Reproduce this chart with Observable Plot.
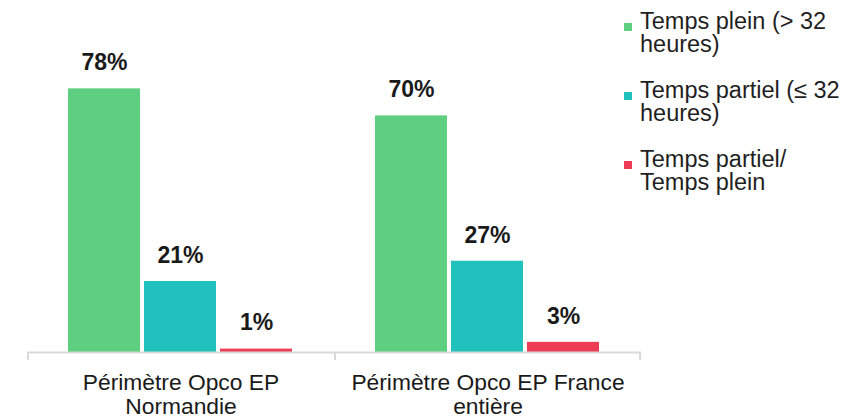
<!DOCTYPE html>
<html>
<head>
<meta charset="utf-8">
<script src="https://cdn.jsdelivr.net/npm/d3@7"></script>
<script src="https://cdn.jsdelivr.net/npm/@observablehq/plot@0.6"></script>
<style>
  body { margin: 0; background: #fff; }
  #wrap { position: relative; width: 856px; height: 418px; font-family: "Liberation Sans", Arial, sans-serif; }
  #legend { position: absolute; left: 624px; top: 10px; color: #1f1f1f; font-size: 23.5px; line-height: 23px; }
  .entry { position: relative; padding-left: 16px; margin-bottom: 23px; white-space: pre; }
  .sw { position: absolute; left: 0; top: 13px; width: 8px; height: 8px; }
</style>
</head>
<body>
<div id="wrap"><div id="legend"></div></div>
<script>
// ---- data ----
const groups = ["Périmètre Opco EP Normandie", "Périmètre Opco EP France entière"];
const groupLabels = ["Périmètre Opco EP\nNormandie", "Périmètre Opco EP France\nentière"];
const series = ["Temps plein (> 32 heures)", "Temps partiel (≤ 32 heures)", "Temps partiel/ Temps plein"];
const legendLabels = ["Temps plein (> 32\nheures)", "Temps partiel (≤ 32\nheures)", "Temps partiel/\nTemps plein"];
const colors = ["#5ecf80", "#21c2bd", "#ee3c55"];
const normandie = [78, 21, 1];
const franceEntiere = [70, 27, 3];

const valuesByGroup = [normandie, franceEntiere];
const data = [];
groups.forEach((g, gi) => series.forEach((s, si) => data.push({group: g, series: s, value: valuesByGroup[gi][si]})));

// ---- layout ----
const W = 856, H = 418, mL = 27, mR = 215, mT = 14, mB = 66;
const pInner = 0.052, pOuter = 0.52;
const facetW = (W - mL - mR) / groups.length;
const step = facetW / (series.length - pInner + 2 * pOuter);
const bw = step * (1 - pInner);
const edgeOffset = pOuter * step + bw / 2;
const pxPerUnit = (H - mT - mB) / 100;

const edges = [
  {group: groups[0], series: series[0], dx: -edgeOffset},
  {group: groups[1], series: series[0], dx: -edgeOffset},
  {group: groups[1], series: series[series.length - 1], dx: edgeOffset}
];

const axisColor = "#d9d9d9";
const chart = Plot.plot({
  width: W, height: H,
  marginLeft: mL, marginRight: mR, marginTop: mT, marginBottom: mB,
  style: {fontFamily: "'Liberation Sans', Arial, sans-serif", background: "transparent", overflow: "visible"},
  fx: {domain: groups, padding: 0, axis: null},
  x: {domain: series, paddingInner: pInner, paddingOuter: pOuter, axis: null},
  y: {domain: [0, 100], axis: null},
  color: {domain: series, range: colors},
  marks: [
    Plot.barY(data, {fx: "group", x: "series", y: "value", fill: "series"}),
    Plot.ruleY(groups, {fx: d => d, y: () => 0, stroke: axisColor, strokeWidth: 2}),
    ...edges.map(e => Plot.ruleX([e], {fx: "group", x: "series", y1: 0, y2: -8 / pxPerUnit, dx: e.dx, stroke: axisColor, strokeWidth: 2})),
    Plot.text(data, {fx: "group", x: "series", y: "value", text: d => Math.round(d.value) + "%", dy: -26,
      fontSize: 23, fontWeight: "bold", fill: "#1a1a1a"}),
    Plot.text(groups, {fx: d => d, text: (d, i) => groupLabels[i], frameAnchor: "bottom", lineAnchor: "top",
      dy: 20.5, fontSize: 22.8, lineHeight: 1.06, fill: "#1a1a1a"})
  ]
});
document.getElementById("wrap").insertBefore(chart, document.getElementById("legend"));

const legend = document.getElementById("legend");
legendLabels.forEach((lab, i) => {
  const e = document.createElement("div");
  e.className = "entry";
  const sw = document.createElement("span");
  sw.className = "sw";
  sw.style.background = colors[i];
  e.appendChild(sw);
  e.appendChild(document.createTextNode(lab));
  legend.appendChild(e);
});
</script>
</body>
</html>
